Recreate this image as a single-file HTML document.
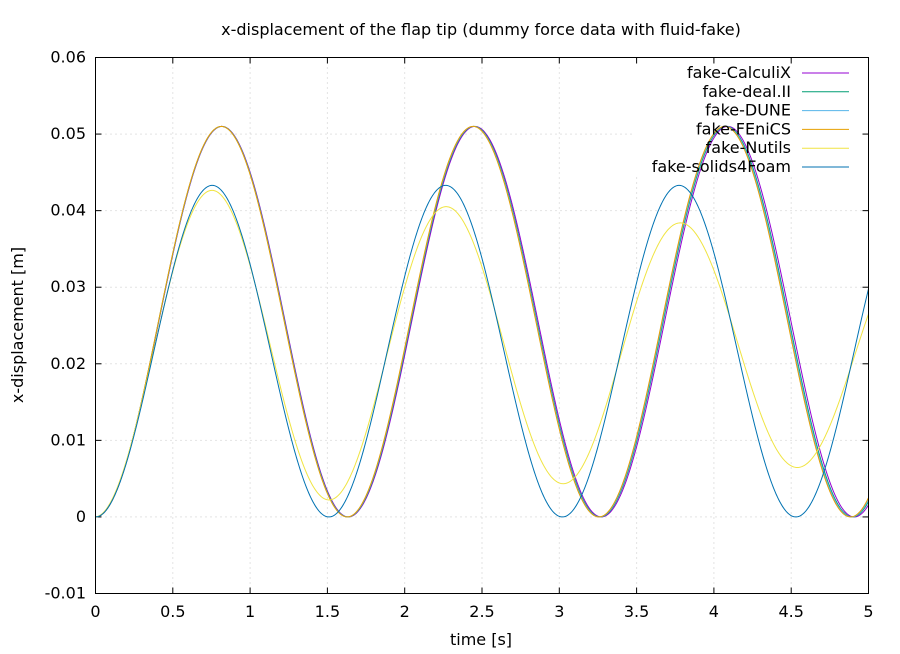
<!DOCTYPE html>
<html><head><style>
body{margin:0;background:#fff}
svg{display:block;font-family:"DejaVu Sans","Liberation Sans",sans-serif}
</style></head><body>
<svg id="s" width="900" height="654" xmlns="http://www.w3.org/2000/svg">
<g id="grid" stroke="#c8c8c8" stroke-width="1" stroke-dasharray="1,4"></g>
<rect x="632" y="61" width="236" height="116" fill="#fff"/>
<g id="ticks" stroke="#000" stroke-width="1"></g>
<g id="labels" font-size="16" fill="#000"></g>
<text x="481" y="35" font-size="16" text-anchor="middle">x-displacement of the flap tip (dummy force data with fluid-fake)</text>
<text x="481" y="645" font-size="16" text-anchor="middle">time [s]</text>
<text x="23" y="325" font-size="16" text-anchor="middle" transform="rotate(-90 23 325)">x-displacement [m]</text>
<g id="curves" fill="none" stroke-width="1"></g>
<g id="legend" font-size="16" text-anchor="end"></g>
<rect x="95.5" y="57.5" width="773" height="536" fill="none" stroke="#000"/>
</svg>
<script>
var X0=95.5,X1=868.5,Y0=593.5,Y1=57.5;
function px(t){return X0+(X1-X0)*t/5}
function py(v){return Y0-(Y0-Y1)*(v+0.01)/0.07}
var ns="http://www.w3.org/2000/svg";
function el(p,n,a,txt){var e=document.createElementNS(ns,n);for(var k in a)e.setAttribute(k,a[k]);if(txt!=null)e.textContent=txt;document.getElementById(p).appendChild(e);return e}
for(var i=0;i<=10;i++){var t=i*0.5,x=px(t);
 if(i>0&&i<10)el("grid","line",{x1:x,y1:Y0,x2:x,y2:Y1});
 el("ticks","line",{x1:x,y1:Y0,x2:x,y2:Y0-6});el("ticks","line",{x1:x,y1:Y1,x2:x,y2:Y1+6});
 el("labels","text",{x:x,y:617,"text-anchor":"middle"},String(t));}
var yl=["-0.01","0","0.01","0.02","0.03","0.04","0.05","0.06"];
for(var j=0;j<8;j++){var v=-0.01+j*0.01,y=py(v);
 if(j>0&&j<7)el("grid","line",{x1:X0,y1:y,x2:X1,y2:y});
 el("ticks","line",{x1:X0,y1:y,x2:X0+6,y2:y});el("ticks","line",{x1:X1,y1:y,x2:X1-6,y2:y});
 el("labels","text",{x:86,y:y+5,"text-anchor":"end"},yl[j]);}
function path(f,col){var d="";for(var k=0;k<=1000;k++){var t=5*k/1000;d+=(k?"L":"M")+px(t).toFixed(2)+","+py(f(t)).toFixed(2)}el("curves","path",{d:d,stroke:col})}
var W=2*Math.PI;
var series=[
["fake-CalculiX","#9400d3",function(t){return 0.0255*(1-Math.cos(W*t/1.636))}],
["fake-deal.II","#009e73",function(t){return 0.0255*(1-Math.cos(W*t/1.632))}],
["fake-DUNE","#56b4e9",function(t){return 0.0255*(1-Math.cos(W*t/1.630))}],
["fake-FEniCS","#e69f00",function(t){return 0.0255*(1-Math.cos(W*t/1.628))}],
["fake-Nutils","#f0e442",function(t){var a=0.0218-0.0014*t+0.0001*Math.exp(-t/0.25);return 0.0219-a*Math.cos(W*t/1.515)}],
["fake-solids4Foam","#0072b2",function(t){return 0.02165*(1-Math.cos(W*t/1.51))}]];
series.forEach(function(s,i){path(s[2],s[1]);var y=73+i*18.8;
 el("legend","text",{x:791,y:y+5},s[0]);
 el("legend","line",{x1:802,y1:y,x2:849,y2:y,stroke:s[1]});});
</script>
</body></html>
